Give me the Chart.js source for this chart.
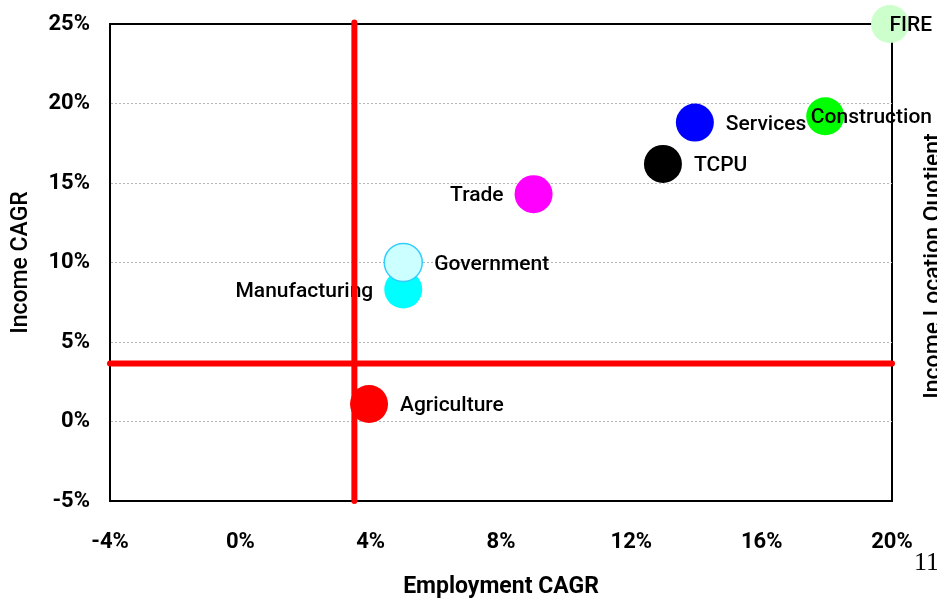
<!DOCTYPE html>
<html>
<head>
<meta charset="utf-8">
<script src="https://cdn.jsdelivr.net/npm/chart.js@4/dist/chart.umd.min.js"></script>
<style>
  html, body { margin: 0; padding: 0; background: #fff; }
  #wrap { width: 937px; height: 602px; }
</style>
</head>
<body>
<div id="wrap"><canvas id="myChart" width="937" height="602"></canvas></div>
<script>
// data (percent)
const sectors = ["Agriculture", "Manufacturing", "Government", "Trade", "TCPU", "Services", "Construction", "FIRE"];
const employmentCagr = [3.95, 5.0, 5.0, 9.0, 12.97, 13.95, 17.95, 19.94];
const incomeCagr = [1.1, 8.3, 10.0, 14.3, 16.2, 18.8, 19.2, 25.0];
const xTicks = [-4, 0, 4, 8, 12, 16, 20];
const yTicks = [-5, 0, 5, 10, 15, 20, 25];
const refEmployment = 3.5;
const refIncome = 3.65;

const fillColors = ["#ff0000", "#00ffff", "#ccffff", "#ff00ff", "#000000", "#0000ff", "#00ff00", "#ccffcc"];
const edgeColors = ["#ff0000", "#00ffff", "#33ccff", "#ff00ff", "#000000", "#0000ff", "#00ff00", "#ccffcc"];
// label side: 1 = right of bubble, -1 = left of bubble
const labelSide = [1, -1, 1, -1, 1, 1, 1, 1];

const FONT = "Roboto, 'Liberation Sans', sans-serif";

const bubbleLabels = {
  id: "bubbleLabels",
  afterDatasetDraw(chart, args) {
    if (args.index !== 2) return;
    const ctx = chart.ctx;
    ctx.save();
    ctx.font = "500 21px " + FONT;
    ctx.fillStyle = "#000";
    ctx.textBaseline = "middle";
    ctx.textAlign = "left";
    args.meta.data.forEach((pt, i) => {
      const txt = sectors[i];
      const w = ctx.measureText(txt).width;
      let x;
      if (labelSide[i] > 0) {
        x = pt.x + 31;
        if (x + w > chart.width - 5) x = chart.width - 5 - w;
      } else {
        x = pt.x - 30 - w;
      }
      ctx.fillText(txt, x, pt.y + 2);
    });
    ctx.restore();
  },
  afterDraw(chart) {
    const ctx = chart.ctx;
    ctx.save();
    ctx.font = "500 23px " + FONT;
    ctx.fillStyle = "#000";
    ctx.textAlign = "center";
    ctx.textBaseline = "middle";
    ctx.translate(934, 266);
    ctx.rotate(-Math.PI / 2);
    ctx.fillText("Income Location Quotient", 0, 0);
    ctx.restore();
    ctx.save();
    ctx.font = "26px 'Liberation Serif', serif";
    ctx.fillStyle = "#000";
    ctx.textBaseline = "middle";
    ctx.fillText("11", 914, 563);
    ctx.restore();
  }
};

const data = {
  datasets: [
    {
      type: "line",
      data: [{ x: refEmployment, y: -5 }, { x: refEmployment, y: 25.1 }],
      borderColor: "#ff0000",
      borderWidth: 6,
      borderCapStyle: "round",
      pointRadius: 0,
      clip: false
    },
    {
      type: "line",
      data: [{ x: -4, y: refIncome }, { x: 20, y: refIncome }],
      borderColor: "#ff0000",
      borderWidth: 6,
      borderCapStyle: "round",
      pointRadius: 0,
      clip: false
    },
    {
      type: "bubble",
      data: employmentCagr.map((v, i) => ({ x: v, y: incomeCagr[i] })),
      backgroundColor: fillColors,
      borderColor: edgeColors,
      borderWidth: fillColors.map((c, i) => i === 2 ? 1.5 : 0),
      radius: 19,
      hoverRadius: 0,
      clip: false
    }
  ]
};

const config = {
  type: "bubble",
  data: data,
  plugins: [bubbleLabels],
  options: {
    responsive: false,
    animation: false,
    events: [],
    layout: { padding: { top: 24, right: 45, left: 0, bottom: 0 } },
    plugins: { legend: { display: false }, tooltip: { enabled: false } },
    scales: {
      x: {
        type: "linear",
        min: -4,
        max: 20,
        afterFit: (s) => { s.height = 101; s.paddingLeft = 0; s.paddingRight = 0; },
        afterBuildTicks: (s) => { s.ticks = xTicks.map(v => ({ value: v })); },
        ticks: {
          padding: 28,
          color: "#000",
          font: { family: FONT, size: 22, weight: "bold" },
          callback: (v) => v + "%"
        },
        grid: {
          drawTicks: false,
          color: (c) => c.tick && c.tick.value === 20 ? "#000" : "rgba(0,0,0,0)",
          lineWidth: 2
        },
        border: { color: "#000", width: 2 },
        title: {
          display: true,
          text: "Employment CAGR",
          color: "#000",
          font: { family: FONT, size: 23, weight: "bold" },
          padding: { top: 0, bottom: 1 }
        }
      },
      y: {
        type: "linear",
        min: -5,
        max: 25,
        afterFit: (s) => { s.width = 110; s.paddingTop = 0; s.paddingBottom = 0; },
        afterBuildTicks: (s) => { s.ticks = yTicks.map(v => ({ value: v })); },
        ticks: {
          padding: 20,
          color: "#000",
          font: { family: FONT, size: 22, weight: "bold" },
          callback: (v) => v + "%"
        },
        grid: {
          drawTicks: false,
          color: (c) => {
            if (!c.tick) return "#b4b4b4";
            if (c.tick.value === 25) return "#000";
            if (c.tick.value === -5) return "rgba(0,0,0,0)";
            return "#b4b4b4";
          },
          lineWidth: (c) => c.tick && c.tick.value === 25 ? 2 : 1
        },
        border: {
          color: "#000",
          width: 2,
          dash: (c) => c.tick && c.tick.value === 25 ? [] : [2, 2]
        },
        title: {
          display: true,
          text: "Income CAGR",
          color: "#000",
          font: { family: FONT, size: 23, weight: "500" },
          padding: { top: 7, bottom: 0 }
        }
      }
    }
  }
};

new Chart(document.getElementById("myChart"), config);
</script>
</body>
</html>
